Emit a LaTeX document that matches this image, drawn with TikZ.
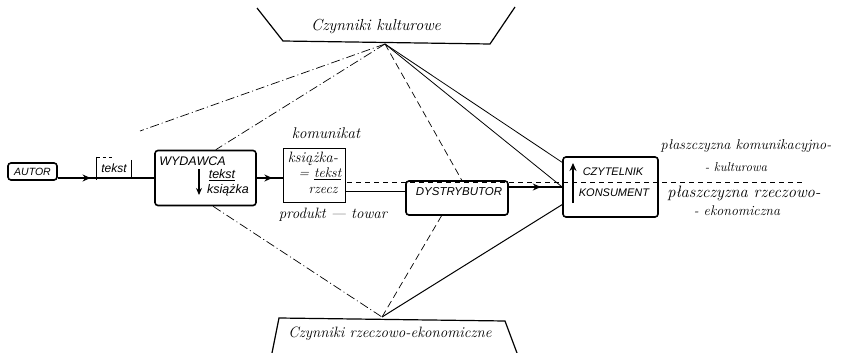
\documentclass[tikz,border=0pt]{standalone}
\usepackage{fontspec}
\newfontfamily\capsfont{Liberation Sans}
\usetikzlibrary{arrows.meta,calc,decorations.markings}
\begin{document}
\begin{tikzpicture}[x=1pt,y=-1pt,
  boxnode/.style={draw,line width=1.6pt,rounded corners=3pt,inner sep=0pt},
  caps/.style={font=\capsfont\itshape\fontsize{11}{13}\selectfont,inner sep=0pt},
  hand/.style={font=\itshape\fontsize{13}{15}\selectfont,inner sep=0pt},
  flow/.style={line width=1.8pt},
  midarrow/.style={postaction={decorate},decoration={markings,mark=at position #1 with {\arrow{Stealth[length=8pt,width=7pt]}}}},
  thinline/.style={line width=0.8pt},
  dashdot/.style={line width=0.7pt,dash pattern=on 9pt off 3pt on 1pt off 3pt},
  loosedash/.style={line width=0.7pt,dash pattern=on 7pt off 4pt},
  trap/.style={line width=1.2pt},
]
\useasboundingbox (0,0) rectangle (841,353);

% factor trapezoids
\coordinate (k1) at (257,8);
\coordinate (k2) at (283,41);
\coordinate (k3) at (490,44);
\coordinate (k4) at (515,7);
\draw[trap] (k1) -- (k2) -- (k3) -- (k4);
\node[hand,font=\itshape\fontsize{16}{18}\selectfont] (kult) at (376,27) {Czynniki kulturowe};
\coordinate (topapex) at (385,44);

\coordinate (e1) at (272,353);
\coordinate (e2) at (279,318);
\coordinate (e3) at (505,321);
\coordinate (e4) at (517,353);
\draw[trap] (e1) -- (e2) -- (e3) -- (e4);
\node[hand,font=\itshape\fontsize{15}{17}\selectfont] (ekon) at (390,334) {Czynniki rzeczowo-ekonomiczne};
\coordinate (botapex) at (382,317);

% boxes
\node[boxnode,caps,font=\capsfont\itshape\fontsize{10.5}{13}\selectfont,minimum width=49pt,minimum height=17pt] (autor) at (32.5,171.5) {AUTOR};

\node[caps,minimum width=34pt,minimum height=23pt] (tekst) at (114,168.5) {\fontsize{12}{14}\selectfont tekst};
\draw[thinline] (tekst.north west) -- (tekst.south west);
\draw[thinline] ($(tekst.north east)+(0,3)$) -- ($(tekst.south east)+(0,-2)$);
\draw[line width=0.5pt,dashed] (tekst.north west) -- (tekst.north);

\node[boxnode,minimum width=101pt,minimum height=55pt] (wydawca) at (205.5,178) {};
\node[caps,font=\capsfont\itshape\fontsize{12.5}{14}\selectfont] (wydlbl) at (192.5,161) {WYDAWCA};
\node[caps,font=\capsfont\itshape\fontsize{12.5}{14}\selectfont] (wtekst) at (222,175) {\underline{tekst}};
\node[caps,font=\capsfont\itshape\fontsize{12.5}{14}\selectfont] (wksiazka) at (228,190) {książka};
\draw[line width=1.6pt,-{Stealth[length=7pt,width=6pt]}] (199,169) -- (199,195);

\node[draw,line width=0.5pt,minimum width=62pt,minimum height=54pt,inner sep=0pt] (ksiazka) at (314,175) {};
\node[hand,font=\itshape\fontsize{15}{17}\selectfont] (kk1) at (313,159) {książka-};
\node[hand,font=\itshape\fontsize{14}{16}\selectfont] (kk2) at (320,173.5) {= \underline{tekst}};
\node[hand,font=\itshape\fontsize{14}{16}\selectfont] (kk3) at (323,190) {rzecz};
\node[hand,font=\itshape\fontsize{15.5}{18}\selectfont] (komunikat) at (326,133) {komunikat};
\node[hand,font=\itshape\fontsize{15}{17}\selectfont] (produkt) at (333,215) {produkt --- towar};

\node[boxnode,minimum width=102pt,minimum height=34pt] (dystr) at (457,198) {};
\node[caps,font=\capsfont\itshape\fontsize{11.5}{13}\selectfont] (dystrlbl) at (459,191.5) {DYSTRYBUTOR};

\node[boxnode,minimum width=95pt,minimum height=60pt] (czyt) at (610.5,187) {};
\node[caps] (czytlbl) at (613,172) {CZYTELNIK};
\node[caps] (konslbl) at (614,193) {KONSUMENT};
\draw[line width=1.8pt,-{Stealth[length=8pt,width=7pt]}] (573,203) -- (573,163);

% main flow
\draw[flow,midarrow=0.34] (autor.east |- wydawca.west) -- (wydawca.west);
\draw[flow,midarrow=0.6] (wydawca.east) -- (ksiazka.west |- wydawca.east);
\draw[flow] (ksiazka.east |- dystrlbl) -- (dystr.west |- dystrlbl);
\draw[flow,midarrow=0.6] (dystr.east |- czyt.west) -- (czyt.west);

% plane separator
\coordinate (dstart) at (347,182);
\coordinate (dend) at (803,182);
\draw[line width=0.8pt,dash pattern=on 5pt off 4pt] (dstart) -- (dend);

% plane labels
\node[hand,font=\itshape\fontsize{14.3}{16}\selectfont] (pk1) at (746,146) {płaszczyzna komunikacyjno-};
\node[hand] (pk2) at (736,167) {- kulturowa};
\node[hand,font=\itshape\fontsize{16.5}{18}\selectfont] (pr1) at (744,193) {płaszczyzna rzeczowo-};
\node[hand,font=\itshape\fontsize{14}{16}\selectfont] (pr2) at (737,211) {- ekonomiczna};

% influence lines from cultural factors
\coordinate (lfar) at (140,131);
\draw[dashdot] (topapex) -- (lfar);
\draw[dashdot] (topapex) -- (wydawca.70);
\draw[loosedash] (topapex) -- (dystr.75);
\draw[thinline] (topapex) -- (czyt.153);
\draw[thinline] (topapex) -- (czyt.west);

% influence lines from economic factors
\draw[dashdot] (wydawca.-75) -- (botapex);
\draw[loosedash] (dystr.-131) -- (botapex);
\draw[line width=1pt] (czyt.200) -- (botapex);
\end{tikzpicture}
\end{document}
